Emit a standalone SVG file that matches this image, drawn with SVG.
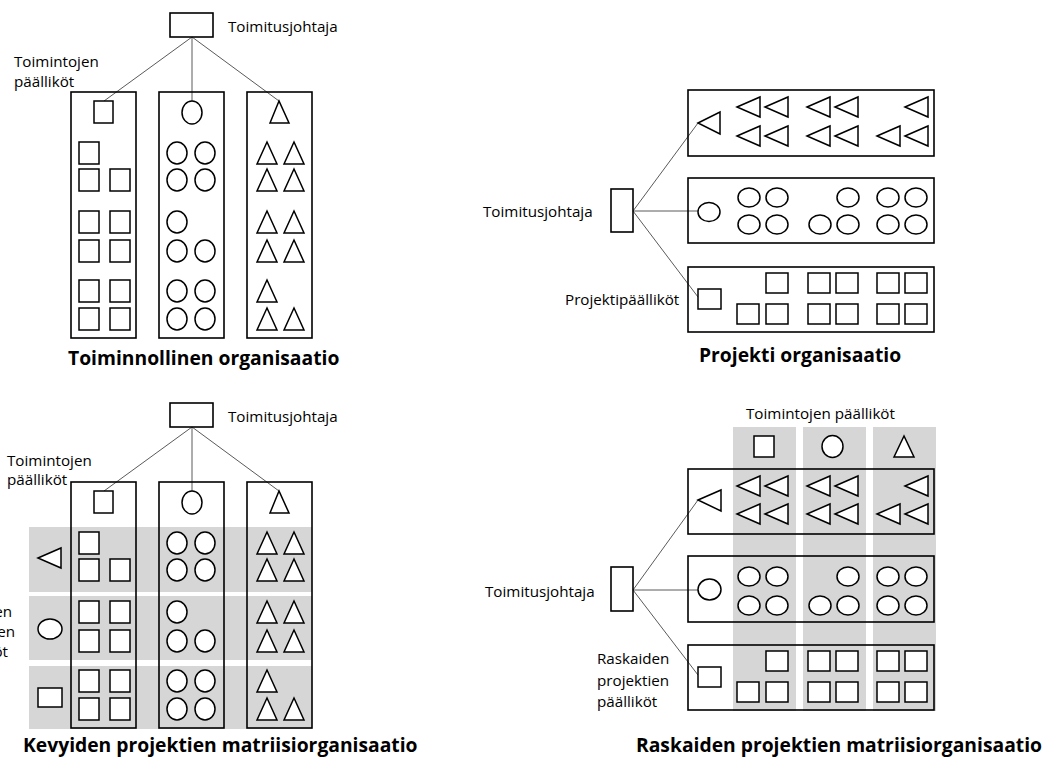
<svg xmlns="http://www.w3.org/2000/svg" xmlns:xlink="http://www.w3.org/1999/xlink" width="1047" height="758" viewBox="0 0 1047 758">
<style>
.bg{fill:#fff}
.box{fill:none;stroke:#000;stroke-width:1.6}
.sh{fill:#fff;stroke:#000;stroke-width:1.5}
.gray{fill:#d6d6d6}
.conn{fill:none;stroke:#5a5a5a;stroke-width:1}
.lbl{font-family:"Open Sans","Liberation Sans",sans-serif;font-size:15.2px;fill:#000}
.ttl{font-family:"Open Sans","Liberation Sans",sans-serif;font-size:19.3px;font-weight:bold;fill:#000}
</style>
<defs>
<rect id="sqv" class="sh" x="0" y="0" width="20" height="22"/>
<ellipse id="cv" class="sh" cx="10" cy="11" rx="10" ry="11"/>
<polygon id="tu" class="sh" points="10,0 0,22 20,22"/>
<polygon id="tl" class="sh" points="0,10 23,0 23,20"/>
<ellipse id="ch" class="sh" cx="11" cy="9.5" rx="11" ry="9.5"/>
<rect id="sqh" class="sh" x="0" y="0" width="22" height="20"/>
</defs>
<rect class="bg" x="0" y="0" width="1047" height="758"/>

<!-- ===== Top-left: Toiminnollinen organisaatio ===== -->
<g id="tl-connectors">
<path class="conn" d="M192,37 L104,101 M192,37 L192,101 M192,37 L279,101"/>
</g>
<g id="tl-ceo">
<rect class="box" x="170" y="13" width="43" height="24"/>
<text class="lbl" x="228" y="32">Toimitusjohtaja</text>
</g>
<g id="tl-label">
<text class="lbl" x="14" y="67">Toimintojen</text>
<text class="lbl" x="14" y="87">päälliköt</text>
</g>
<g id="tl-col1">
<rect class="box" x="71" y="92" width="65" height="246"/>
<rect class="sh" x="94" y="101" width="19" height="22"/>
<use href="#sqv" x="79" y="142"/>
<use href="#sqv" x="79" y="169"/><use href="#sqv" x="110" y="169"/>
<use href="#sqv" x="79" y="211"/><use href="#sqv" x="110" y="211"/>
<use href="#sqv" x="79" y="240"/><use href="#sqv" x="110" y="240"/>
<use href="#sqv" x="79" y="280"/><use href="#sqv" x="110" y="280"/>
<use href="#sqv" x="79" y="308"/><use href="#sqv" x="110" y="308"/>
</g>
<g id="tl-col2">
<rect class="box" x="159" y="92" width="65" height="246"/>
<ellipse class="sh" cx="192" cy="112.5" rx="10" ry="11.5"/>
<use href="#cv" x="167" y="142"/><use href="#cv" x="195" y="142"/>
<use href="#cv" x="167" y="169"/><use href="#cv" x="195" y="169"/>
<use href="#cv" x="167" y="211"/>
<use href="#cv" x="167" y="240"/><use href="#cv" x="195" y="240"/>
<use href="#cv" x="167" y="280"/><use href="#cv" x="195" y="280"/>
<use href="#cv" x="167" y="308"/><use href="#cv" x="195" y="308"/>
</g>
<g id="tl-col3">
<rect class="box" x="247" y="92" width="65" height="246"/>
<polygon class="sh" points="279,101 270,123 289,123"/>
<use href="#tu" x="257" y="142"/><use href="#tu" x="284" y="142"/>
<use href="#tu" x="257" y="169"/><use href="#tu" x="284" y="169"/>
<use href="#tu" x="257" y="211"/><use href="#tu" x="284" y="211"/>
<use href="#tu" x="257" y="240"/><use href="#tu" x="284" y="240"/>
<use href="#tu" x="257" y="280"/>
<use href="#tu" x="257" y="308"/><use href="#tu" x="284" y="308"/>
</g>
<text id="tl-title" class="ttl" x="68" y="365">Toiminnollinen organisaatio</text>

<!-- ===== Top-right: Projekti organisaatio ===== -->
<g id="tr-connectors">
<path class="conn" d="M633,211 L698,123 M633,211 L698,211 M633,211 L698,297"/>
</g>
<g id="tr-ceo">
<rect class="box" x="611" y="189" width="22" height="43"/>
<text class="lbl" x="483" y="217">Toimitusjohtaja</text>
</g>
<g id="tr-row1">
<rect class="box" x="688" y="90" width="246" height="66"/>
<polygon class="sh" points="698,123 720,112 720,134"/>
<use href="#tl" x="737" y="97"/><use href="#tl" x="765" y="97"/><use href="#tl" x="807" y="97"/><use href="#tl" x="835" y="97"/><use href="#tl" x="905" y="97"/>
<use href="#tl" x="737" y="126"/><use href="#tl" x="765" y="126"/><use href="#tl" x="807" y="126"/><use href="#tl" x="835" y="126"/><use href="#tl" x="877" y="126"/><use href="#tl" x="905" y="126"/>
</g>
<g id="tr-row2">
<rect class="box" x="688" y="178" width="246" height="65"/>
<ellipse class="sh" cx="709" cy="212" rx="11" ry="9.5"/>
<use href="#ch" x="738" y="188"/><use href="#ch" x="766" y="188"/><use href="#ch" x="837" y="188"/><use href="#ch" x="877" y="188"/><use href="#ch" x="905" y="188"/>
<use href="#ch" x="738" y="215"/><use href="#ch" x="766" y="215"/><use href="#ch" x="809" y="215"/><use href="#ch" x="837" y="215"/><use href="#ch" x="877" y="215"/><use href="#ch" x="905" y="215"/>
</g>
<g id="tr-row3">
<rect class="box" x="688" y="267" width="246" height="65"/>
<rect class="sh" x="698" y="289" width="23" height="20"/>
<use href="#sqh" x="766" y="273"/><use href="#sqh" x="808" y="273"/><use href="#sqh" x="836" y="273"/><use href="#sqh" x="877" y="273"/><use href="#sqh" x="905" y="273"/>
<use href="#sqh" x="737" y="304"/><use href="#sqh" x="766" y="304"/><use href="#sqh" x="808" y="304"/><use href="#sqh" x="836" y="304"/><use href="#sqh" x="877" y="304"/><use href="#sqh" x="905" y="304"/>
<text class="lbl" x="565" y="305">Projektipäälliköt</text>
</g>
<text id="tr-title" class="ttl" x="699" y="362">Projekti organisaatio</text>

<!-- ===== Bottom-left: Kevyiden projektien matriisiorganisaatio ===== -->
<g id="bl-bands">
<rect class="gray" x="29" y="527" width="283" height="65"/>
<rect class="gray" x="29" y="596" width="283" height="64"/>
<rect class="gray" x="29" y="666" width="283" height="63"/>
</g>
<g id="bl-connectors">
<path class="conn" d="M192,427 L104,491 M192,427 L192,491 M192,427 L279,491"/>
</g>
<g id="bl-ceo">
<rect class="box" x="170" y="403" width="43" height="24"/>
<text class="lbl" x="228" y="422">Toimitusjohtaja</text>
</g>
<g id="bl-label">
<text class="lbl" x="7" y="466">Toimintojen</text>
<text class="lbl" x="7" y="485">päälliköt</text>
</g>
<g id="bl-pm">
<text class="lbl" text-anchor="end" x="12" y="617">Kevyiden</text>
<text class="lbl" text-anchor="end" x="15" y="637">projektien</text>
<text class="lbl" text-anchor="end" x="8" y="657">päälliköt</text>
<polygon class="sh" points="38,558 61,548 61,568"/>
<ellipse class="sh" cx="50" cy="629" rx="12" ry="10"/>
<rect class="sh" x="38" y="688" width="24" height="19"/>
</g>
<g id="bl-col1">
<rect class="box" x="71" y="482" width="65" height="246"/>
<rect class="sh" x="94" y="491" width="19" height="22"/>
<use href="#sqv" x="79" y="532"/>
<use href="#sqv" x="79" y="559"/><use href="#sqv" x="110" y="559"/>
<use href="#sqv" x="79" y="601"/><use href="#sqv" x="110" y="601"/>
<use href="#sqv" x="79" y="630"/><use href="#sqv" x="110" y="630"/>
<use href="#sqv" x="79" y="670"/><use href="#sqv" x="110" y="670"/>
<use href="#sqv" x="79" y="698"/><use href="#sqv" x="110" y="698"/>
</g>
<g id="bl-col2">
<rect class="box" x="159" y="482" width="65" height="246"/>
<ellipse class="sh" cx="192" cy="502.5" rx="10" ry="11.5"/>
<use href="#cv" x="167" y="532"/><use href="#cv" x="195" y="532"/>
<use href="#cv" x="167" y="559"/><use href="#cv" x="195" y="559"/>
<use href="#cv" x="167" y="601"/>
<use href="#cv" x="167" y="630"/><use href="#cv" x="195" y="630"/>
<use href="#cv" x="167" y="670"/><use href="#cv" x="195" y="670"/>
<use href="#cv" x="167" y="698"/><use href="#cv" x="195" y="698"/>
</g>
<g id="bl-col3">
<rect class="box" x="247" y="482" width="65" height="246"/>
<polygon class="sh" points="279,491 270,513 289,513"/>
<use href="#tu" x="257" y="532"/><use href="#tu" x="284" y="532"/>
<use href="#tu" x="257" y="559"/><use href="#tu" x="284" y="559"/>
<use href="#tu" x="257" y="601"/><use href="#tu" x="284" y="601"/>
<use href="#tu" x="257" y="630"/><use href="#tu" x="284" y="630"/>
<use href="#tu" x="257" y="670"/>
<use href="#tu" x="257" y="698"/><use href="#tu" x="284" y="698"/>
</g>
<text id="bl-title" class="ttl" x="23" y="752">Kevyiden projektien matriisiorganisaatio</text>

<!-- ===== Bottom-right: Raskaiden projektien matriisiorganisaatio ===== -->
<g id="br-bands">
<rect class="gray" x="733" y="427" width="63" height="284"/>
<rect class="gray" x="803" y="427" width="63" height="284"/>
<rect class="gray" x="873" y="427" width="63" height="284"/>
</g>
<g id="br-connectors">
<path class="conn" d="M633,590 L698,500 M633,590 L698,590 M633,590 L698,675"/>
</g>
<g id="br-heads">
<text class="lbl" x="746" y="419">Toimintojen päälliköt</text>
<rect class="sh" x="754" y="436" width="20" height="21"/>
<ellipse class="sh" cx="832.5" cy="446.5" rx="10.5" ry="11"/>
<polygon class="sh" points="904,436 894,457 914,457"/>
</g>
<g id="br-ceo">
<rect class="box" x="611" y="567" width="22" height="44"/>
<text class="lbl" x="485" y="597">Toimitusjohtaja</text>
</g>
<g id="br-row1">
<rect class="box" x="688" y="469" width="246" height="65"/>
<polygon class="sh" points="698,500 721,490 721,511"/>
<use href="#tl" x="737" y="476"/><use href="#tl" x="765" y="476"/><use href="#tl" x="807" y="476"/><use href="#tl" x="835" y="476"/><use href="#tl" x="905" y="476"/>
<use href="#tl" x="737" y="504"/><use href="#tl" x="765" y="504"/><use href="#tl" x="807" y="504"/><use href="#tl" x="835" y="504"/><use href="#tl" x="877" y="504"/><use href="#tl" x="905" y="504"/>
</g>
<g id="br-row2">
<rect class="box" x="688" y="556" width="246" height="66"/>
<ellipse class="sh" cx="709.5" cy="589.5" rx="11.5" ry="10.5"/>
<use href="#ch" x="738" y="567"/><use href="#ch" x="766" y="567"/><use href="#ch" x="837" y="567"/><use href="#ch" x="877" y="567"/><use href="#ch" x="905" y="567"/>
<use href="#ch" x="738" y="596"/><use href="#ch" x="766" y="596"/><use href="#ch" x="809" y="596"/><use href="#ch" x="837" y="596"/><use href="#ch" x="877" y="596"/><use href="#ch" x="905" y="596"/>
</g>
<g id="br-row3">
<rect class="box" x="688" y="645" width="246" height="65"/>
<rect class="sh" x="698" y="667" width="23" height="20"/>
<use href="#sqh" x="766" y="651"/><use href="#sqh" x="808" y="651"/><use href="#sqh" x="836" y="651"/><use href="#sqh" x="877" y="651"/><use href="#sqh" x="905" y="651"/>
<use href="#sqh" x="737" y="682"/><use href="#sqh" x="766" y="682"/><use href="#sqh" x="808" y="682"/><use href="#sqh" x="836" y="682"/><use href="#sqh" x="877" y="682"/><use href="#sqh" x="905" y="682"/>
<text class="lbl" x="597" y="664">Raskaiden</text>
<text class="lbl" x="597" y="685.5">projektien</text>
<text class="lbl" x="597" y="707">päälliköt</text>
</g>
<text id="br-title" class="ttl" x="636" y="752">Raskaiden projektien matriisiorganisaatio</text>
</svg>
